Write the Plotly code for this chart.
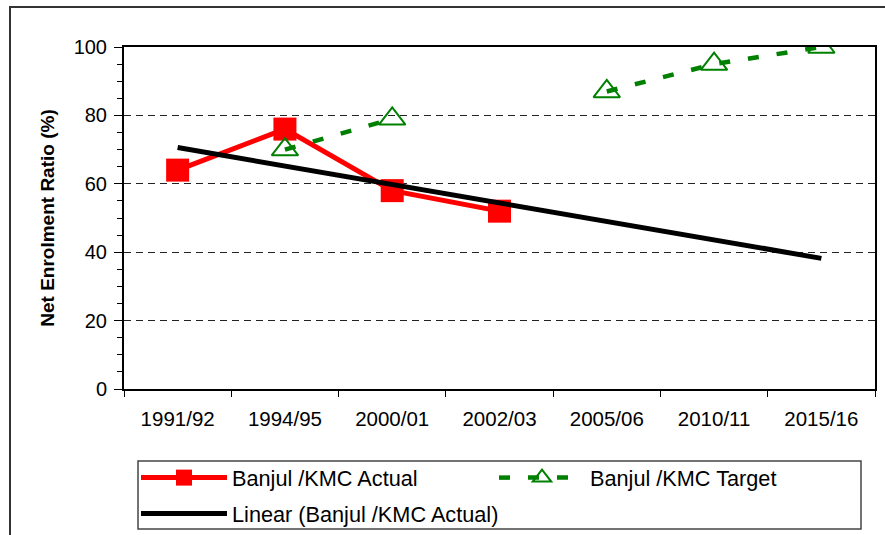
import plotly.graph_objects as go

categories = ["1991/92", "1994/95", "2000/01", "2002/03", "2005/06", "2010/11", "2015/16"]
actual = [64, 76, 58, 52, None, None, None]
target = [None, 70, 79, None, 87, 95, 100]
trend_x = ["1991/92", "2015/16"]
trend_y = [70.6, 38.2]
y_ticks = [0, 20, 40, 60, 80, 100]

FONT = "Arial, Liberation Sans, sans-serif"
W, H = 885, 535
L, R, T, B = 124, 10, 47, 146
PW, PH = W - L - R, H - T - B


def px(x):
    return (x - L) / PW


def py(y):
    return (H - B - y) / PH


fig = go.Figure()

fig.add_trace(go.Scatter(
    x=categories, y=actual, name="Banjul /KMC Actual", mode="lines+markers",
    line=dict(color="#FF0000", width=5),
    marker=dict(symbol="square", size=23, color="#FF0000"),
    legend="legend",
))
fig.add_trace(go.Scatter(
    x=categories, y=target, name="Banjul /KMC Target", mode="lines+markers",
    connectgaps=False,
    line=dict(color="#008000", width=4.5, dash="11px,18px"),
    marker=dict(symbol="triangle-up-open", size=23, color="#008000", line=dict(width=2, color="#008000")),
    legend="legend",
))
fig.add_trace(go.Scatter(
    x=trend_x, y=trend_y, name="Linear (Banjul /KMC Actual)", mode="lines",
    line=dict(color="#000000", width=5),
    legend="legend2",
))

shapes = [
    # outer chart border
    dict(type="rect", xref="paper", yref="paper",
         x0=px(10), x1=px(900), y0=py(7), y1=py(560),
         line=dict(color="#333333", width=2), fillcolor="rgba(0,0,0,0)", layer="below"),
    # legend box
    dict(type="rect", xref="paper", yref="paper",
         x0=px(138), x1=px(861), y0=py(461), y1=py(529),
         line=dict(color="#444444", width=1.5), fillcolor="rgba(0,0,0,0)"),
]

fig.update_layout(
    width=W, height=H,
    margin=dict(l=L, r=R, t=T, b=B, autoexpand=False),
    paper_bgcolor="white", plot_bgcolor="white",
    font=dict(family=FONT, size=20, color="black"),
    showlegend=True,
    legend=dict(
        orientation="h", x=px(136), xanchor="left", y=py(478), yanchor="middle",
        bgcolor="rgba(0,0,0,0)", borderwidth=0,
        font=dict(family=FONT, size=21.7, color="black"),
        itemwidth=86, entrywidth=257, itemclick=False,
    ),
    legend2=dict(
        orientation="h", x=px(136), xanchor="left", y=py(514), yanchor="middle",
        bgcolor="rgba(0,0,0,0)", borderwidth=0,
        font=dict(family=FONT, size=21.7, color="black"),
        itemwidth=86, itemclick=False,
    ),
    shapes=shapes,
    xaxis=dict(
        type="category", categoryorder="array", categoryarray=categories,
        range=[-0.5, len(categories) - 0.5],
        showline=True, linecolor="black", linewidth=2, mirror=True,
        ticks="outside", tickson="boundaries", ticklen=6, tickcolor="black", tickwidth=1,
        showgrid=False, zeroline=False, automargin=False,
        tickfont=dict(family=FONT, size=20.5, color="black"),
        ticklabelstandoff=10,
    ),
    yaxis=dict(
        range=[0, 100], tickvals=y_ticks,
        showline=True, linecolor="black", linewidth=2, mirror=True,
        ticks="outside", ticklen=8, tickcolor="black", tickwidth=1,
        minor=dict(dtick=5, ticks="outside", ticklen=5, tickcolor="black", showgrid=False),
        showgrid=True, gridcolor="#222222", gridwidth=1, griddash="7px,5px",
        zeroline=False, automargin=False,
        tickfont=dict(family=FONT, size=20, color="black"),
        ticklabelstandoff=3,
        title=dict(text="<b>Net Enrolment Ratio (%)</b>", font=dict(family=FONT, size=19, color="black"), standoff=14),
    ),
)

fig.write_html("out.html", config={"displayModeBar": False},
               post_script="document.body.style.margin='0px';")
